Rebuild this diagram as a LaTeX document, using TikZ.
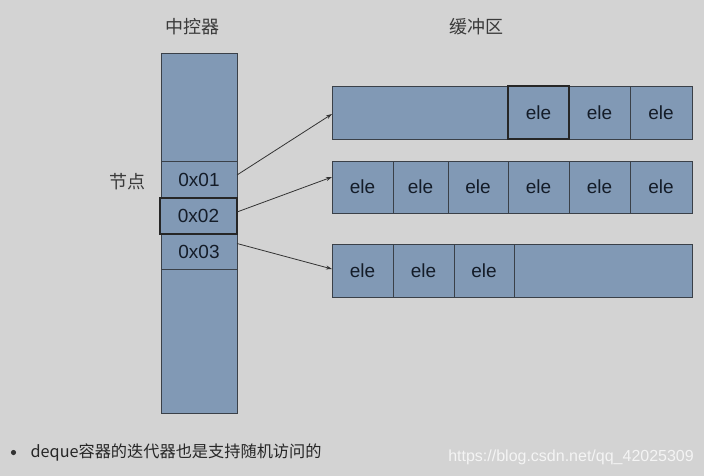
\documentclass[tikz,border=0pt]{standalone}
\usepackage{fontspec}
\setmainfont{Liberation Sans}
\newfontfamily\cjk{Noto Sans CJK SC}
\usetikzlibrary{arrows.meta}
\definecolor{bg}{HTML}{D3D3D3}
\definecolor{boxfill}{HTML}{8199B5}
\definecolor{boxline}{HTML}{3A4048}
\definecolor{boxtext}{HTML}{141C28}
\definecolor{lbl}{HTML}{3A3A3A}
\definecolor{wm}{HTML}{F4F4F4}
\tikzset{
  cell/.style={draw=boxline, fill=boxfill, line width=0.9pt, inner sep=0pt, outer sep=0pt,
    text=boxtext, font=\fontsize{19}{19}\selectfont},
  hl/.style={cell, draw=black!85, line width=1.4pt},
  lab/.style={text=lbl, font=\cjk\fontsize{18}{18}\selectfont, inner sep=0pt},
  conn/.style={draw=black!80, line width=0.8pt, -{Stealth[length=6pt,width=4pt]}},
}
\begin{document}
\begin{tikzpicture}[x=1pt,y=-1pt]
\fill[bg] (0,0) rectangle (704,476);
\useasboundingbox (0,0) rectangle (704,476);

% labels
\node[lab] (lctl) at (192,27) {中控器};
\node[lab] (lbuf) at (476,27) {缓冲区};
\node[lab] (lnode) at (127,182) {节点};

% central control
\node[cell, minimum width=76pt, minimum height=108pt] (ctop) at (199,107) {};
\node[cell, minimum width=76pt, minimum height=37pt] (n1) at (199,179.5) {\raisebox{-2pt}{0x01}};
\node[cell, minimum width=76pt, minimum height=35pt] (n3) at (199,251.5) {\raisebox{-1pt}{0x03}};
\node[cell, minimum width=76pt, minimum height=144pt] (cbot) at (199,341) {};
\node[hl, minimum width=77pt, minimum height=36pt] (n2) at (198.5,216) {\raisebox{-1pt}{0x02}};

% buffer row 1
\node[cell, minimum width=176pt, minimum height=53pt] (r1a) at (420,112.5) {};
\node[cell, minimum width=61pt, minimum height=53pt] (r1c) at (599.5,112.5) {\raisebox{-3pt}{ele}};
\node[cell, minimum width=62pt, minimum height=53pt] (r1d) at (661,112.5) {\raisebox{-3pt}{ele}};
\node[hl, minimum width=61pt, minimum height=53pt] (r1b) at (538.5,112.5) {\raisebox{-3pt}{ele}};

% buffer row 2
\node[cell, minimum width=61pt, minimum height=52pt] (r2a) at (362.5,187) {\raisebox{-2pt}{ele}};
\node[cell, minimum width=55pt, minimum height=52pt] (r2b) at (420.5,187) {\raisebox{-2pt}{ele}};
\node[cell, minimum width=60pt, minimum height=52pt] (r2c) at (478,187) {\raisebox{-2pt}{ele}};
\node[cell, minimum width=61pt, minimum height=52pt] (r2d) at (538.5,187) {\raisebox{-2pt}{ele}};
\node[cell, minimum width=61pt, minimum height=52pt] (r2e) at (599.5,187) {\raisebox{-2pt}{ele}};
\node[cell, minimum width=62pt, minimum height=52pt] (r2f) at (661,187) {\raisebox{-2pt}{ele}};

% buffer row 3
\node[cell, minimum width=61pt, minimum height=53pt] (r3a) at (362.5,270.5) {ele};
\node[cell, minimum width=61pt, minimum height=53pt] (r3b) at (423.5,270.5) {ele};
\node[cell, minimum width=60pt, minimum height=53pt] (r3c) at (484,270.5) {ele};
\node[cell, minimum width=178pt, minimum height=53pt] (r3d) at (603,270.5) {};

% connectors
\draw[conn] ([yshift=4.5pt]n1.east) -- ([yshift=-1.5pt]r1a.west);
\draw[conn] ([yshift=4pt]n2.east) -- ([yshift=10pt]r2a.west);
\draw[conn] ([yshift=8pt]n3.east) -- ([yshift=1.5pt]r3a.west);

% bottom text
\fill[black!80] (13.5,452.5) circle (2.6pt);
\node[anchor=west, inner sep=0pt, text=black!85, font=\cjk\fontsize{16.2}{16.2}\selectfont] (btxt) at (30.5,452.5) {deque容器的迭代器也是支持随机访问的};
\node[anchor=east, inner sep=0pt, text=wm, font=\fontsize{16}{16}\selectfont] (wmk) at (694,457) {https://blog.csdn.net/qq\_42025309};
\end{tikzpicture}
\end{document}
